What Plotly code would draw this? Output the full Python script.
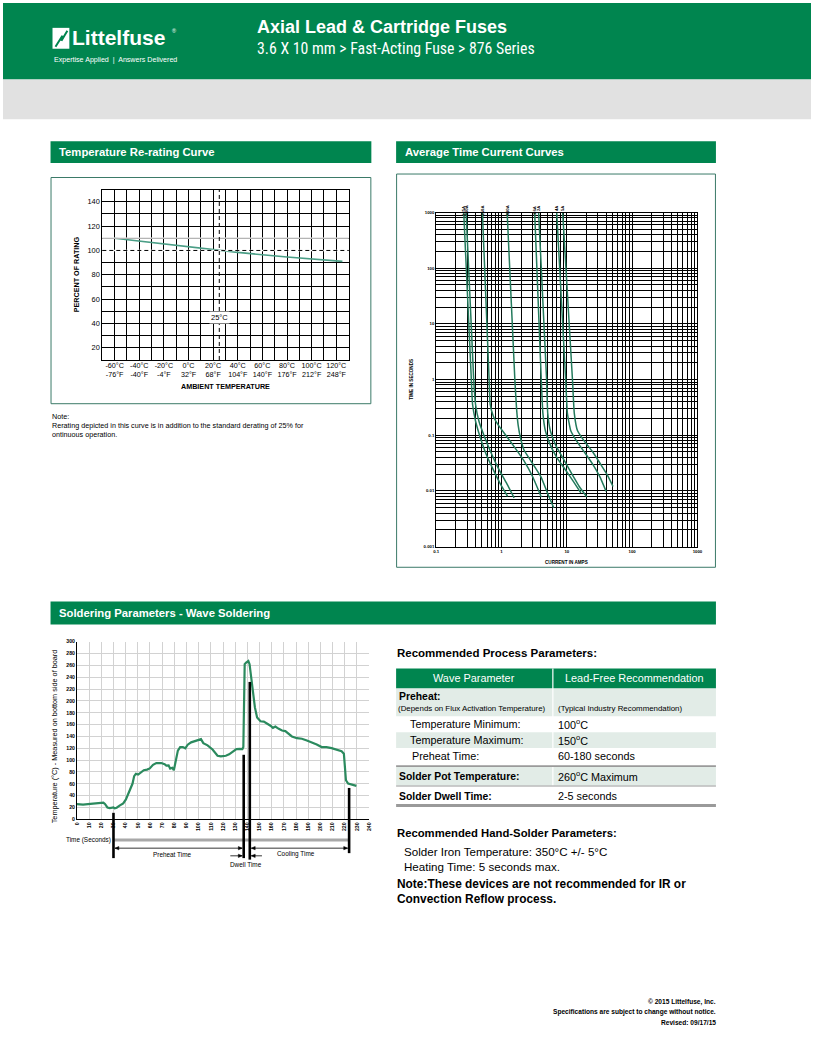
import math
import plotly.graph_objects as go

W, H = 816, 1056


def px(x):
    return x / W


def py(y):
    return 1 - y / H


GREEN = "#00854f"
BOXLINE = "#3b7a68"
SANS = "Liberation Sans, Arial, sans-serif"
COND = "Roboto Condensed, Liberation Sans, sans-serif"

# ---------------- DATA ----------------
# Temperature re-rating curve
rerate_temp_c = [-60, 0, 25, 40, 80, 125]
rerate_pct = [110, 103.3, 100, 98.4, 94.6, 91]
rated_temp_c = 25
rated_pct = 100
temp_tick_c = [-60, -40, -20, 0, 20, 40, 60, 80, 100, 120]
temp_tick_labels = ["-60°C<br>-76°F", "-40°C<br>-40°F", "-20°C<br>-4°F", "0°C<br>32°F",
                    "20°C<br>68°F", "40°C<br>104°F", "60°C<br>140°F", "80°C<br>176°F",
                    "100°C<br>212°F", "120°C<br>248°F"]
pct_ticks = [20, 40, 60, 80, 100, 120, 140]

# Average time current curves (current A, time s)
tcc_labels = [".125A", ".160A", ".250A", ".630A", "1.6A", "2A", "4A", "5A"]
tcc_current = [
    [0.264, 0.345, 0.36, 0.40, 0.47, 0.576, 0.75, 0.95, 1.24],
    [0.287, 0.375, 0.40, 0.45, 0.55, 0.70, 0.92, 1.2, 1.56],
    [0.51, 0.646, 0.67, 0.75, 0.9, 1.2, 1.6, 2.2, 3.0, 4.06],
    [1.22, 1.6, 1.7, 1.8, 1.95, 2.2, 2.8, 4.0, 5.3, 6.3],
    [3.22, 4.06, 4.3, 4.7, 5.5, 7.0, 9.5, 12.5, 16.4],
    [3.7, 4.9, 5.1, 5.6, 6.8, 8.8, 12.0, 15.5, 20.2],
    [7.0, 9.6, 10.2, 11.5, 14.5, 19.0, 25.0, 32.0, 40.0],
    [8.64, 12.2, 13.0, 14.6, 19.0, 25.0, 33.0, 42.0, 51.0],
]
tcc_time = [
    [1000, 1, 0.36, 0.18, 0.093, 0.047, 0.0238, 0.0137, 0.008],
    [1000, 1, 0.36, 0.18, 0.093, 0.047, 0.0238, 0.0137, 0.0075],
    [1000, 1, 0.36, 0.22, 0.15, 0.095, 0.06, 0.035, 0.018, 0.0078],
    [1000, 1, 0.3, 0.15, 0.09, 0.055, 0.035, 0.018, 0.008, 0.005],
    [1000, 1, 0.25, 0.12, 0.07, 0.04, 0.024, 0.015, 0.0092],
    [1000, 1, 0.25, 0.12, 0.065, 0.038, 0.02, 0.012, 0.0078],
    [1000, 1, 0.25, 0.12, 0.075, 0.048, 0.03, 0.018, 0.0098],
    [1000, 1, 0.25, 0.12, 0.075, 0.05, 0.03, 0.019, 0.012],
]
tcc_x_ticks = [0.1, 1, 10, 100, 1000]
tcc_x_labels = ["0.1", "1", "10", "100", "1000"]
tcc_y_ticks = [0.001, 0.01, 0.1, 1, 10, 100, 1000]
tcc_y_labels = ["0.001", "0.01", "0.1", "1", "10", "100", "1000"]

# Wave soldering profile (s, °C)
solder_time = [0, 5, 11, 15, 19, 21.7, 23, 25, 27, 30,
               31, 32.6, 35.3, 38, 40.2, 42, 44, 45.6, 47, 48.4,
               50.3, 52.2, 54.9, 57.6, 59.8, 62.5, 65.2, 69.3, 72, 73.4,
               75.3, 76.6, 78.3, 79.6, 81, 82.9, 84.8, 87, 89, 91,
               93.8, 96.5, 99.2, 101.9, 103.8, 107.3, 111.4, 113.3, 115.5, 118.2,
               122.3, 125, 128.3, 131, 133.7, 135.9, 136.7, 137.8, 139, 140.8,
               141.8, 143.2, 144.6, 146.2, 148, 150.8, 153.5, 156.3, 159, 161,
               163, 165.8, 168.5, 171.2, 173.9, 176.6, 180.7, 184.8, 188.9, 193,
               197, 201, 205, 209.2, 213.3, 217.4, 219.3, 220.1, 221, 222.8,
               225.5, 229.6]
solder_temp = [25.7, 25, 26, 27, 28.5, 28, 26, 20, 19, 20,
               18.5, 19.6, 23.5, 27, 33.6, 42.5, 50, 60, 73, 77,
               75.5, 78, 83, 84, 86, 92, 95, 95, 93, 90.6,
               91, 85.6, 87, 83, 97, 116, 122, 122, 120, 126,
               130, 132, 133, 135.4, 128.7, 125, 118, 113.6, 107.4, 106.3,
               107.4, 109.7, 115.3, 118.6, 119, 118.6, 122, 262, 264.7, 267.5,
               262, 239.5, 214, 189, 172, 165.6, 165, 162, 158, 154.5,
               156.7, 152.8, 150, 149, 144.4, 140, 137, 136, 133, 130,
               126.5, 122, 122, 120.3, 118, 115, 110.8, 88.4, 66, 60.4,
               58.8, 56.5]
# phase markers: time (s) and temperature at top of marker
phase_times = [30, 137, 142, 223.6]
phase_tops = [11, 109, 232, 53]

# Table text
param_labels = ["Preheat:", "(Depends on Flux Activation Temperature)", "Temperature Minimum:",
                "Temperature Maximum:", "Preheat Time:", "Solder Pot Temperature:", "Solder Dwell Time:"]
param_values = ["", "(Typical Industry Recommendation)", "100<sup>o</sup>C", "150<sup>o</sup>C",
                "60-180 seconds", "260<sup>o</sup>C Maximum", "2-5 seconds"]

# ---------------- FIGURE ----------------
fig = go.Figure()

fig.add_trace(go.Scatter(x=rerate_temp_c, y=rerate_pct, mode="lines",
                         line=dict(color="#4a9e86", width=1.6), xaxis="x", yaxis="y",
                         hoverinfo="skip"))
for cur, tim in zip(tcc_current, tcc_time):
    fig.add_trace(go.Scatter(x=cur, y=tim, mode="lines",
                             line=dict(color="#237a5c", width=1.5, shape="spline", smoothing=0.4),
                             xaxis="x2", yaxis="y2", hoverinfo="skip"))
fig.add_trace(go.Scatter(x=solder_time, y=solder_temp, mode="lines",
                         line=dict(color="#2b8a5e", width=2.2), xaxis="x3", yaxis="y3",
                         hoverinfo="skip"))

shapes = []
annots = []


def rect(x0, y0, x1, y1, fill, line=None, lw=0):
    shapes.append(dict(type="rect", xref="paper", yref="paper", x0=px(x0), x1=px(x1),
                       y0=py(y1), y1=py(y0), fillcolor=fill,
                       line=dict(color=line if line else fill, width=lw), layer="below"))


def frame(x0, y0, x1, y1, color, lw=1):
    shapes.append(dict(type="rect", xref="paper", yref="paper", x0=px(x0), x1=px(x1),
                       y0=py(y1), y1=py(y0), fillcolor="rgba(0,0,0,0)",
                       line=dict(color=color, width=lw), layer="above"))


def hline(x0, x1, y, color, lw):
    shapes.append(dict(type="line", xref="paper", yref="paper", x0=px(x0), x1=px(x1),
                       y0=py(y), y1=py(y), line=dict(color=color, width=lw), layer="above"))


def text(x, y, s, size, color="black", bold=False, xanchor="left", family=SANS, angle=0, bg=None):
    a = dict(xref="paper", yref="paper", x=px(x), y=py(y), text=f"<b>{s}</b>" if bold else s,
             showarrow=False, xanchor=xanchor, yanchor="middle",
             font=dict(size=size, color=color, family=family), textangle=angle, borderpad=0)
    if bg:
        a["bgcolor"] = bg
    annots.append(a)


# ---- page header
rect(0, 0, 816, 77, GREEN)
rect(0, 77, 816, 117, "#e1e1e1")
# logo icon
rect(50, 25, 67, 46, "white")
shapes.append(dict(type="path", xref="paper", yref="paper",
                   path=f"M {px(53)} {py(44)} L {px(60)} {py(33)} L {px(59)} {py(38)} L {px(65)} {py(28)}",
                   line=dict(color=GREEN, width=2), layer="above"))
text(69, 35, "Littelfuse", 21, "white", True, family=SANS)
text(170, 28, "®", 5.5, "white", family=SANS)
text(50, 57, "Expertise Applied  |  Answers Delivered", 7.1, "white", family=SANS)
text(256, 24, "Axial Lead &amp; Cartridge Fuses", 18, "white", True, family=SANS)
text(256, 46, "3.6 X 10 mm &gt; Fast-Acting Fuse &gt; 876 Series", 15.8, "white", family=COND)

# ---- section bars
rect(48, 139, 372, 161, GREEN)
text(56, 150, "Temperature Re-rating Curve", 11.3, "white", True)
rect(397, 139, 720, 161, GREEN)
text(405, 150, "Average Time Current Curves", 11.3, "white", True)
rect(48, 602, 720, 625, GREEN)
text(56, 613.5, "Soldering Parameters - Wave Soldering", 11.3, "white", True)

# ---- chart frames
frame(48.5, 175.5, 371.5, 403, BOXLINE)
frame(397.5, 172, 719.5, 567.5, BOXLINE)

# ---- temperature chart extras
shapes.append(dict(type="line", xref="x domain", yref="y", x0=0, x1=1, y0=110, y1=110,
                   line=dict(color="white", width=1.5), layer="above"))
shapes.append(dict(type="line", xref="x domain", yref="y", x0=0, x1=1, y0=110, y1=110,
                   line=dict(color="#a0a0a0", width=1), layer="above"))
shapes.append(dict(type="line", xref="x domain", yref="y", x0=0, x1=1, y0=rated_pct, y1=rated_pct,
                   line=dict(color="white", width=1.5), layer="above"))
shapes.append(dict(type="line", xref="x domain", yref="y", x0=0, x1=1, y0=rated_pct, y1=rated_pct,
                   line=dict(color="black", width=1, dash="4px,3px"), layer="above"))
shapes.append(dict(type="line", xref="x", yref="y domain", x0=rated_temp_c, x1=rated_temp_c, y0=0, y1=1,
                   line=dict(color="black", width=1, dash="4px,3px"), layer="above"))
annots.append(dict(xref="x", yref="y", x=rated_temp_c, y=45, text="25°C", showarrow=False,
                   font=dict(size=7.5, family=SANS, color="black"), bgcolor="white", borderpad=1))
text(74.5, 273, "PERCENT OF RATING", 7.2, bold=True, xanchor="center", angle=-90)
text(224.5, 385.5, "AMBIENT TEMPERATURE", 7.2, bold=True, xanchor="center")

text(48, 416, "Note:", 7.2)
text(48, 425, "Rerating depicted in this curve is in addition to the standard derating of 25% for", 7.2)
text(48, 434, "ontinuous operation.", 7.2)

# ---- TCC extras (annotation x on log axes is given in log10 units)
for lab, cur in zip(tcc_labels, tcc_current):
    annots.append(dict(xref="x2", yref="paper", x=math.log10(cur[0]), y=py(203), text=f"<b>{lab}</b>",
                       showarrow=False, textangle=-90, font=dict(size=4.2, family=SANS, color="black"),
                       borderpad=0))
text(413, 378, "TIME IN SECONDS", 4.6, bold=True, xanchor="center", angle=-90)
text(569, 562.5, "CURRENT IN AMPS", 4.6, bold=True, xanchor="center")

# ---- solder chart extras
Y3_DOM = [py(821), py(642.3)]


def t2p(temp):
    return Y3_DOM[0] + temp / 300 * (Y3_DOM[1] - Y3_DOM[0])


bar_bottoms = [860, 860, 861.5, 855]
for t, top, bot in zip(phase_times, phase_tops, bar_bottoms):
    shapes.append(dict(type="line", xref="x3", yref="paper", x0=t, x1=t, y0=py(bot), y1=t2p(top),
                       line=dict(color="black", width=2.6), layer="above"))
shapes.append(dict(type="line", xref="x3", yref="paper", x0=phase_times[0], x1=phase_times[3],
                   y0=py(841.7), y1=py(841.7), line=dict(color="#a8a8a8", width=3), layer="below"))

HEAD_S = 3.2      # arrowhead length in seconds (~4 px)
HEAD_H = 1.7      # half height in px


def head(x_tip, ypix, direction):
    xb = x_tip - direction * HEAD_S
    shapes.append(dict(type="path", xref="x3", yref="paper",
                       path=f"M {xb} {py(ypix - HEAD_H)} L {x_tip} {py(ypix)} L {xb} {py(ypix + HEAD_H)} Z",
                       fillcolor="black", line=dict(color="black", width=0.5), layer="above"))


def harrow(x_from, x_to, ypix, both=False):
    shapes.append(dict(type="line", xref="x3", yref="paper", x0=x_from, x1=x_to, y0=py(ypix), y1=py(ypix),
                       line=dict(color="black", width=0.8), layer="above"))
    d = 1 if x_to > x_from else -1
    head(x_to, ypix, d)
    if both:
        head(x_from, ypix, -d)


harrow(phase_times[0] + 1.2, phase_times[1] - 1.2, 850, both=True)
harrow(phase_times[2] + 1.2, phase_times[3] - 1.2, 850, both=True)
harrow(126, phase_times[1] - 1.2, 857.7)
harrow(152, phase_times[2] + 1.2, 857.7)
text(63, 841.5, "Time (Seconds)", 6.4)
text(171, 856, "Preheat Time", 6.4, xanchor="center")
text(296, 856, "Cooling Time", 6.4, xanchor="center")
text(245, 866, "Dwell Time", 6.4, xanchor="center")
text(52, 737, "Temperature (°C) - Measured on bottom side of board", 7.3, xanchor="center", angle=-90)

# ---- process parameters table
text(397, 653.5, "Recommended Process Parameters:", 11.5, bold=True)
rect(397, 669.3, 720, 689.3, GREEN)
text(476, 679.3, "Wave Parameter", 10.9, "white", xanchor="center")
text(637.5, 679.3, "Lead-Free Recommendation", 10.9, "white", xanchor="center")
LIGHT = "#e2ece7"
rect(397, 689.3, 720, 717.3, LIGHT)
rect(397, 733.3, 720, 749.3, LIGHT)
rect(397, 768, 720, 787, LIGHT)
shapes.append(dict(type="line", xref="paper", yref="paper", x0=px(555.3), x1=px(555.3),
                   y0=py(806), y1=py(669.3), line=dict(color="white", width=1.2), layer="below"))
hline(397, 720, 767.5, "#9a9a9a", 1.6)
hline(397, 720, 787.5, "#9a9a9a", 1)
hline(397, 720, 807, "#9a9a9a", 3)

text(399, 697.5, param_labels[0], 10.4, bold=True)
text(398, 709.3, param_labels[1], 7.9)
text(559, 709.3, param_values[1], 7.9)
text(410, 725, param_labels[2], 10.8)
text(559, 725, param_values[2], 10.8)
text(410, 741.3, param_labels[3], 10.8)
text(559, 741.3, param_values[3], 10.8)
text(412, 757.5, param_labels[4], 10.8)
text(559, 757.5, param_values[4], 10.8)
text(399, 777.7, param_labels[5], 10.4, bold=True)
text(559, 777.7, param_values[5], 10.8)
text(399, 797.7, param_labels[6], 10.4, bold=True)
text(559, 797.7, param_values[6], 10.8)

# ---- hand solder
text(397, 834.5, "Recommended Hand-Solder Parameters:", 11.3, bold=True)
text(404, 853, "Solder Iron Temperature: 350°C +/- 5°C", 11.6)
text(404, 868.5, "Heating Time: 5 seconds max.", 11.6)
text(397, 886, "Note:These devices are not recommended for IR or", 11.9, bold=True)
text(397, 901, "Convection Reflow process.", 11.9, bold=True)

# ---- footer
text(721, 1004.5, "© 2015 Littelfuse, Inc.", 6.6, bold=True, xanchor="right")
text(721, 1015, "Specifications are subject to change without notice.", 6.6, bold=True, xanchor="right")
text(721, 1025.5, "Revised: 09/17/15", 6.6, bold=True, xanchor="right")

# grid positions for log axes (1..9 per decade)
log_minor_x = [m * 10 ** e for e in range(-1, 3) for m in range(1, 10)] + [1000]
log_minor_y = [m * 10 ** e for e in range(-3, 3) for m in range(1, 10)] + [1000]

fig.update_layout(
    width=W, height=H, margin=dict(l=0, r=0, t=0, b=0),
    paper_bgcolor="white", plot_bgcolor="white", showlegend=False,
    shapes=shapes, annotations=annots,
    xaxis=dict(domain=[px(100.3), px(349)], range=[-70, 130], anchor="y",
               tickmode="array", tickvals=temp_tick_c, ticktext=temp_tick_labels,
               showgrid=True, gridcolor="black", gridwidth=1,
               minor=dict(dtick=10, tick0=0, showgrid=True, gridcolor="black", gridwidth=1),
               showline=True, linecolor="black", mirror=True, zeroline=False, ticks="",
               ticklabelstandoff=-2,
               tickfont=dict(size=7.2, family=SANS, color="black"), fixedrange=True),
    yaxis=dict(domain=[py(359), py(187.7)], range=[10, 150], anchor="x",
               tickmode="array", tickvals=pct_ticks,
               showgrid=True, gridcolor="black", gridwidth=1,
               minor=dict(dtick=10, tick0=0, showgrid=True, gridcolor="black", gridwidth=1),
               showline=True, linecolor="black", mirror=True, zeroline=False, ticks="",
               tickfont=dict(size=7.4, family=SANS, color="black")),
    xaxis2=dict(type="log", domain=[px(437.5), px(701.3)], range=[-1, 3], anchor="y2",
                tickmode="array", tickvals=tcc_x_ticks, ticktext=[f"<b>{t}</b>" for t in tcc_x_labels],
                showgrid=True, gridcolor="black", gridwidth=1,
                minor=dict(tickmode="array", tickvals=log_minor_x, showgrid=True, gridcolor="black", gridwidth=1),
                showline=True, linecolor="black", mirror=True, zeroline=False, ticks="",
                tickfont=dict(size=4.3, family=SANS, color="black")),
    yaxis2=dict(type="log", domain=[py(546.7), py(210.7)], range=[-3, 3], anchor="x2",
                tickmode="array", tickvals=tcc_y_ticks, ticktext=[f"<b>{t}</b>" for t in tcc_y_labels],
                showgrid=True, gridcolor="black", gridwidth=1,
                minor=dict(tickmode="array", tickvals=log_minor_y, showgrid=True, gridcolor="black", gridwidth=1),
                showline=True, linecolor="black", mirror=True, zeroline=False, ticks="",
                tickfont=dict(size=4.3, family=SANS, color="black")),
    xaxis3=dict(domain=[px(74.7), px(369.7)], range=[0, 240], anchor="y3",
                tickmode="linear", tick0=0, dtick=10, tickangle=-90,
                showgrid=True, gridcolor="#d2d2d2", gridwidth=1,
                showline=True, linecolor="black", mirror=False, zeroline=False, ticks="",
                tickfont=dict(size=5.2, family=SANS, color="black"), tickprefix="<b>", ticksuffix="</b>"),
    yaxis3=dict(domain=[py(821), py(642.3)], range=[0, 300], anchor="x3",
                tickmode="linear", tick0=0, dtick=20,
                showgrid=True, gridcolor="#d2d2d2", gridwidth=1,
                showline=True, linecolor="black", mirror=False, zeroline=False, ticks="",
                tickfont=dict(size=5.2, family=SANS, color="black"), tickprefix="<b>", ticksuffix="</b>"),
)

fig.write_html("out.html")
